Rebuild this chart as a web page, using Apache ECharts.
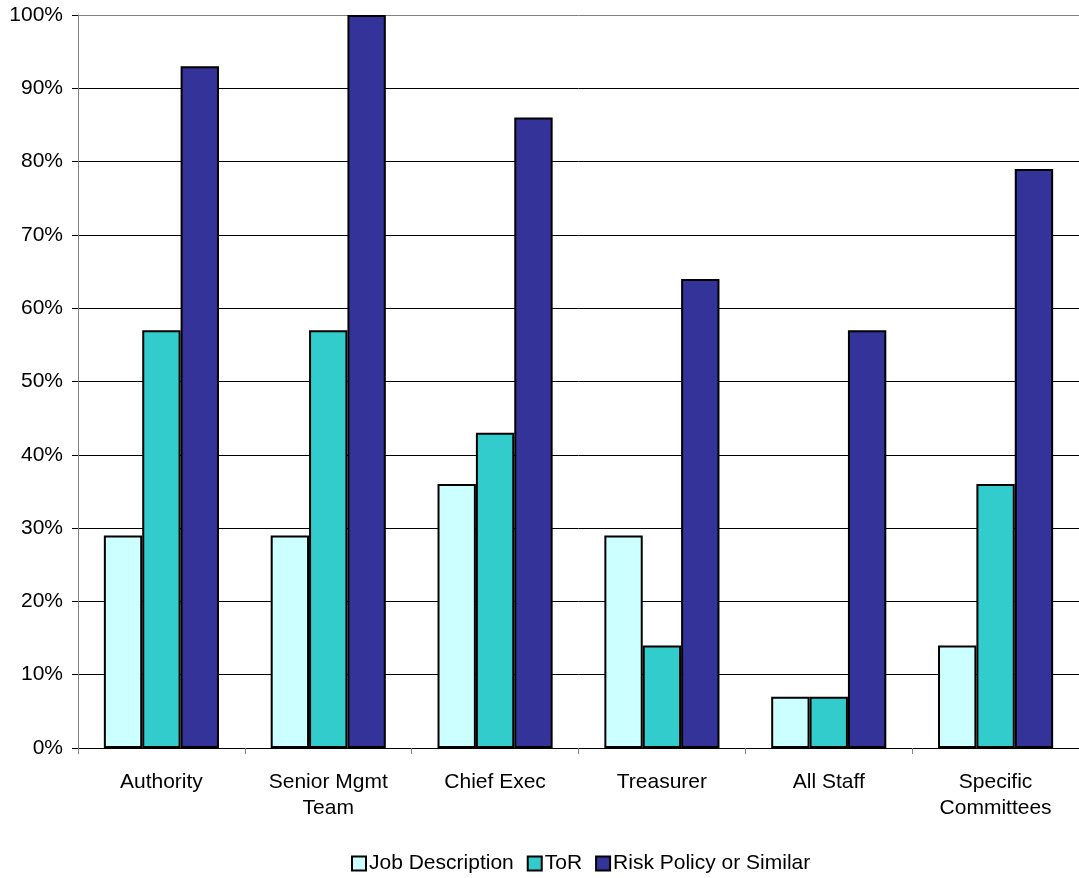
<!DOCTYPE html>
<html>
<head>
<meta charset="utf-8">
<script src="https://cdn.jsdelivr.net/npm/echarts@6/dist/echarts.min.js"></script>
<style>
  html, body { margin: 0; padding: 0; background: #fff; }
  #chart { width: 1079px; height: 878px; }
</style>
</head>
<body>
<div id="chart"></div>
<script>
// Categories and percentage values per series
const categories = ['Authority', 'Senior Mgmt\nTeam', 'Chief Exec', 'Treasurer', 'All Staff', 'Specific\nCommittees'];
const jobDescription = [29, 29, 36, 29, 7, 14];
const tor = [57, 57, 43, 14, 7, 36];
const riskPolicy = [93, 100, 86, 64, 57, 79];
const seriesNames = ['Job Description', 'ToR', 'Risk Policy or Similar'];
const seriesColors = ['#ccffff', '#33cccc', '#333399'];

const font = 'Liberation Sans, Arial, Helvetica, sans-serif';
// gridline colours: black for inner lines, grey for the top (100%) line
const gridColors = ['#000', '#000', '#000', '#000', '#000', '#000', '#000', '#000', '#000', '#000', '#808080'];

const chart = echarts.init(document.getElementById('chart'));
const values = [jobDescription, tor, riskPolicy];

chart.setOption({
  animation: false,
  backgroundColor: '#fff',
  grid: { left: 78, right: 0, top: 15, bottom: 130 },
  legend: {
    top: 848,
    left: 346,
    icon: 'rect',
    itemWidth: 14,
    itemHeight: 14,
    itemGap: 13,
    textStyle: { fontFamily: font, fontSize: 21, color: '#000', padding: [0, 0, 0, -2] },
    data: seriesNames
  },
  xAxis: {
    type: 'category',
    data: categories,
    axisLine: { lineStyle: { color: '#000', width: 1 } },
    axisTick: { show: true, length: 6, lineStyle: { color: '#808080' } },
    axisLabel: {
      fontFamily: font, fontSize: 21, color: '#000',
      margin: 21, lineHeight: 26, interval: 0
    }
  },
  yAxis: {
    type: 'value',
    min: 0,
    max: 100,
    interval: 10,
    axisLine: { show: true, lineStyle: { color: '#808080', width: 1 } },
    axisTick: { show: true, length: 6, lineStyle: { color: '#000' } },
    axisLabel: {
      formatter: '{value}%',
      fontFamily: font, fontSize: 21, color: '#000', margin: 15,
      padding: [3, 0, 0, 0]
    },
    splitLine: { show: true, lineStyle: { color: gridColors, width: 1 } }
  },
  series: seriesNames.map((name, i) => ({
    name: name,
    type: 'bar',
    data: values[i],
    barGap: '0%',
    barCategoryGap: '31%',
    itemStyle: { color: seriesColors[i], borderColor: '#000', borderWidth: 2 }
  }))
});
</script>
</body>
</html>
